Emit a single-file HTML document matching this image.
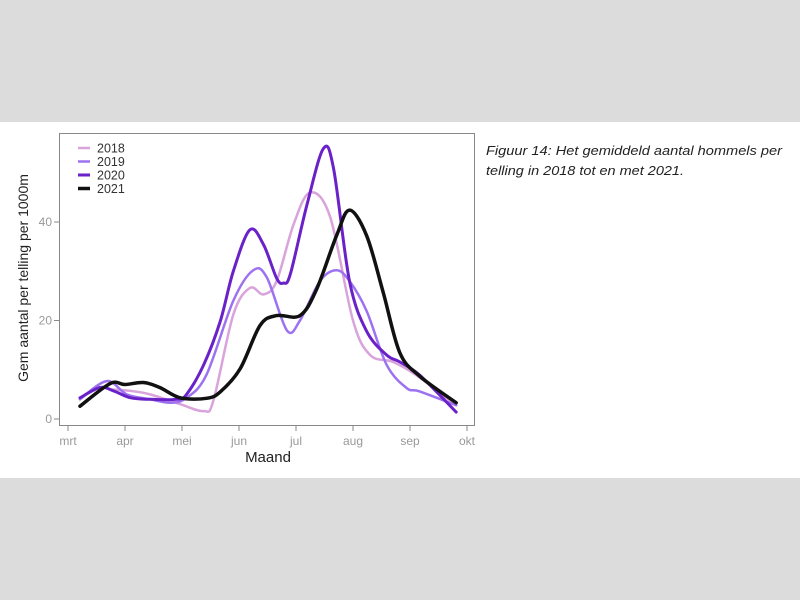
<!DOCTYPE html>
<html><head><meta charset="utf-8"><style>
html,body{margin:0;padding:0;background:#dcdcdc;width:800px;height:600px;overflow:hidden}
svg{display:block}
</style></head><body>
<svg id="chart" width="800" height="600" xmlns="http://www.w3.org/2000/svg" font-family="Liberation Sans, Arial, sans-serif">
<rect x="0" y="0" width="800" height="600" fill="#dcdcdc"/>
<rect x="0" y="122" width="800" height="356" fill="#ffffff"/>
<rect x="59.5" y="133.5" width="415" height="292" fill="none" stroke="#888" stroke-width="1"/>
<g id="axes"></g>
<g id="series"></g>
<g id="legend"></g>
<text x="28" y="278" transform="rotate(-90 28 278)" text-anchor="middle" font-size="14" fill="#222">Gem aantal per telling per 1000m</text>
<text x="268" y="462" text-anchor="middle" font-size="15" fill="#222">Maand</text>
<text x="486" y="155" font-size="13" font-style="italic" fill="#222" textLength="296" lengthAdjust="spacingAndGlyphs">Figuur 14: Het gemiddeld aantal hommels per</text>
<text x="486" y="175" font-size="13" font-style="italic" fill="#222" textLength="198" lengthAdjust="spacingAndGlyphs">telling in 2018 tot en met 2021.</text>
</svg>
<script>
const months = ["mrt","apr","mei","jun","jul","aug","sep","okt"];
const yTicks = [0,20,40];
const seriesNames = ["2018","2019","2020","2021"];
const m2018 = [0.75,1.1,1.44,1.97,2.38,2.55,2.9,3.19,3.43,3.66,3.96,4.25,4.6,5.0,5.3,5.7,6.11,6.81];
const v2018 = [6,5.7,5,3,1.6,3.7,21.2,26.6,25.3,28,39.6,46,41,20,13,11.6,8.9,2.8];
const m2019 = [0.21,0.68,1.03,1.44,1.8,2.08,2.43,2.9,3.25,3.49,3.84,4.07,4.42,4.71,4.94,5.24,5.59,5.94,6.17,6.81];
const v2019 = [4,7.7,5,4,3.3,4.3,9,24,30.2,28.7,18,20,28,30.2,28,21.9,11,6.3,5.6,2.8];
const m2020 = [0.21,0.56,0.8,1.1,1.44,1.91,2.08,2.38,2.67,2.9,3.19,3.43,3.66,3.78,3.9,4.19,4.48,4.66,4.94,5.24,5.59,5.82,6.17,6.81];
const v2020 = [4.3,6.4,5.7,4.3,4,4,5,11,19.8,30,38.4,35.4,28.6,27.6,29.4,43.4,54.9,50.8,27.9,17.8,13,11.6,8.9,1.4];
const m2021 = [0.21,0.74,1.0,1.32,1.61,1.97,2.43,2.67,3.02,3.37,3.66,4.07,4.36,4.71,4.94,5.24,5.53,5.82,6.17,6.81];
const v2021 = [2.6,7.2,7,7.4,6.4,4.3,4.2,5.5,10.2,19,21,21,26.3,37.2,42.4,37.2,25.7,13.5,8.7,3.3];
const colors = ["#d9a3dc","#9d72f0","#6a22c8","#111111"];
const widths = [2.5,2.5,3,3.5];

const NS="http://www.w3.org/2000/svg";
const X = m => 68 + 57*m;
const Y = v => 419 - 4.925*v;
function mk(tag, attrs, parent){const e=document.createElementNS(NS,tag);for(const k in attrs)e.setAttribute(k,attrs[k]);parent.appendChild(e);return e;}
const axes=document.getElementById('axes');
months.forEach((lab,i)=>{
  const t=mk('line',{x1:X(i),x2:X(i),y1:426,y2:431,stroke:'#888'},axes);
  
  
  const tx=mk('text',{x:X(i),y:445,'text-anchor':'middle','font-size':12,fill:'#999'},axes);
  tx.textContent=lab;
  
  
});
yTicks.forEach(v=>{
  const t=mk('line',{x1:54,x2:59,y1:Y(v),y2:Y(v),stroke:'#888'},axes);
  
  
  const tx=mk('text',{x:52,y:Y(v)+4,'text-anchor':'end','font-size':12,fill:'#999'},axes);
  tx.textContent=v;
  
  
});
function smooth(xs,ys){
  const p=xs.map((m,i)=>[X(m),Y(ys[i])]);
  let d='M'+p[0][0]+','+p[0][1];
  for(let i=0;i<p.length-1;i++){
    const p0=p[i-1]||p[i],p1=p[i],p2=p[i+1],p3=p[i+2]||p2;
    const c1=[p1[0]+(p2[0]-p0[0])/6,p1[1]+(p2[1]-p0[1])/6];
    const c2=[p2[0]-(p3[0]-p1[0])/6,p2[1]-(p3[1]-p1[1])/6];
    d+=`C${c1[0]},${c1[1]} ${c2[0]},${c2[1]} ${p2[0]},${p2[1]}`;
  }
  return d;
}
const sm=[m2018,m2019,m2020,m2021], sv=[v2018,v2019,v2020,v2021];
const sg=document.getElementById('series');
sm.forEach((ms,i)=>{
  const pth=mk('path',{d:smooth(ms,sv[i]),fill:'none',stroke:colors[i],'stroke-width':widths[i],'stroke-linejoin':'round','stroke-linecap':'round'},sg);
  
  
});
const lg=document.getElementById('legend');
seriesNames.forEach((n,i)=>{
  const y=148+13.5*i;
  const g=mk('g',{},lg);
  
  
  mk('line',{x1:78,x2:90,y1:y,y2:y,stroke:colors[i],'stroke-width':widths[i]},g);
  const t=mk('text',{x:97,y:y+4.5,'font-size':12.5,fill:'#333'},g);
  t.textContent=n;
});
</script>
</body></html>
